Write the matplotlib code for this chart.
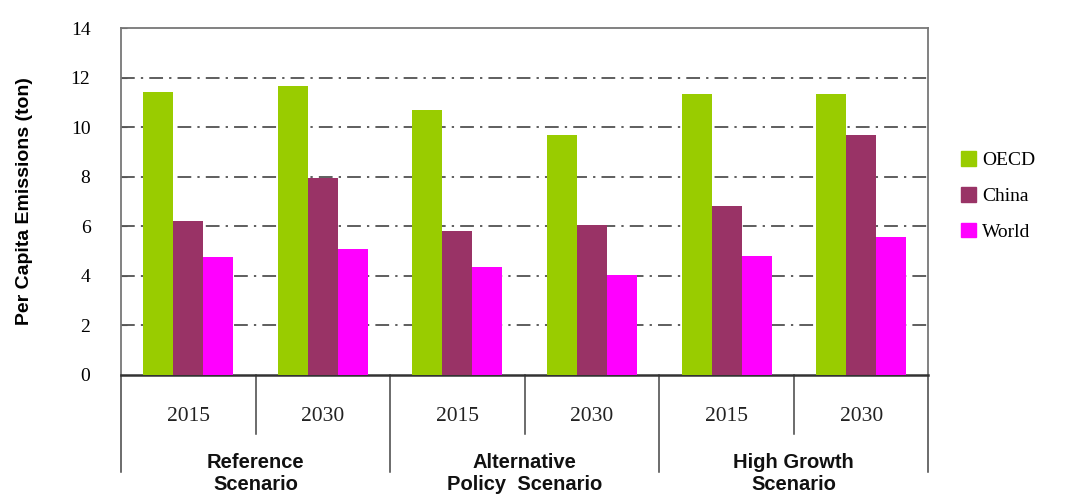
'''per capita emissions by scenario'''

import matplotlib.pyplot as plt
from matplotlib.patches import Patch
import numpy as np

scenarios = ['Reference\nScenario', 'Alternative\nPolicy  Scenario', 'High Growth\nScenario']
years = ['2015', '2030', '2015', '2030', '2015', '2030']
oecd = [11.4, 11.65, 10.7, 9.7, 11.35, 11.35]
china = [6.2, 7.95, 5.8, 6.05, 6.8, 9.7]
world = [4.75, 5.1, 4.35, 4.05, 4.8, 5.55]

colors = {'OECD': '#99cc00', 'China': '#993366', 'World': '#ff00ff'}
serif = 'Liberation Serif'
sans = 'Liberation Sans'

fig = plt.figure(figsize=(10.68, 4.96), dpi=100)
ax = fig.add_axes([0.1133, 0.244, 0.756, 0.6995])

x = np.arange(len(years))
w = 0.223
ax.bar(x - w, oecd, w, color=colors['OECD'], zorder=3)
ax.bar(x, china, w, color=colors['China'], zorder=3)
ax.bar(x + w, world, w, color=colors['World'], zorder=3)

ax.set_xlim(-0.5, len(years) - 0.5)
ax.set_ylim(0, 14)
ax.set_yticks(range(0, 15, 2))
ax.set_yticklabels([str(v) for v in range(0, 15, 2)], fontfamily=serif, fontsize=14)
ax.set_xticks([])

# dash-dot grid
for v in range(2, 14, 2):
    ax.axhline(v, color='#333333', lw=1.1, ls=(0, (9, 4, 1.5, 4)), zorder=1)

for s in ['left', 'top', 'right']:
    ax.spines[s].set_color('#777777')
    ax.spines[s].set_linewidth(1.3)
ax.spines['bottom'].set_color('#333333')
ax.spines['bottom'].set_linewidth(1.8)
ax.tick_params(axis='y', direction='in', length=4, color='#555555', pad=22)

ax.set_ylabel('Per Capita Emissions (ton)', fontfamily=sans, fontweight='bold',
              fontsize=14, labelpad=27)

# two-level category axis below the plot
trans = ax.get_xaxis_transform()
for i, yr in enumerate(years):
    ax.text(i, -0.12, yr, transform=trans, ha='center', va='center',
            fontfamily=serif, fontsize=15.5, color='#222222')
for i in range(len(years) + 1):
    xb = i - 0.5
    if i % 2 == 0:
        ax.plot([xb, xb], [0, -0.28], transform=trans, color='#444444',
                lw=1.1, clip_on=False)
    else:
        ax.plot([xb, xb], [0, -0.17], transform=trans, color='#444444',
                lw=1.1, clip_on=False)
for j, sc in enumerate(scenarios):
    ax.text(2 * j + 0.5, -0.283, sc, transform=trans, ha='center', va='center',
            fontfamily=sans, fontweight='bold', fontsize=14.5, linespacing=1.22,
            color='#111111')

handles = [Patch(color=c, label=k) for k, c in colors.items()]
fig.legend(handles=handles, loc='center left', bbox_to_anchor=(0.883, 0.605),
           frameon=False, prop={'family': serif, 'size': 14},
           handlelength=0.8, handleheight=0.8, handletextpad=0.3,
           labelspacing=0.9)

plt.savefig('out.png', dpi=100)
